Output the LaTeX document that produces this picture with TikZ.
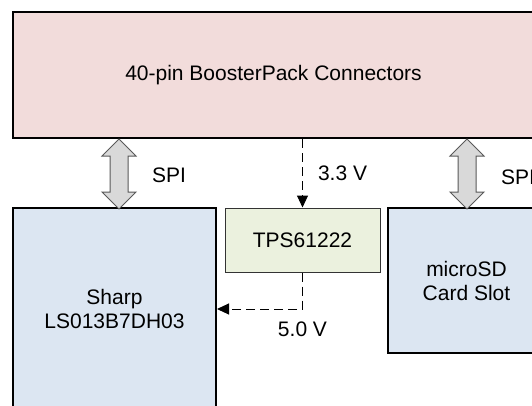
\documentclass[tikz,border=0pt]{standalone}
\usepackage{fontspec}
\setmainfont{Liberation Sans}
\usepackage{tikz}
\usetikzlibrary{arrows.meta}
\definecolor{boosterpink}{HTML}{F2DCDB}
\definecolor{chipblue}{HTML}{DCE6F2}
\definecolor{regulgreen}{HTML}{EBF1DE}
\definecolor{busgray}{HTML}{D9D9D9}
\tikzstyle{block} = [draw=black, line width=2pt, rectangle,
                     inner sep=0pt, align=center]
\tikzstyle{booster} = [block, fill=boosterpink]
\tikzstyle{device} = [block, fill=chipblue]
\tikzstyle{regul} = [block, line width=1pt, draw=black!80, fill=regulgreen]
\tikzstyle{bus} = [draw=black!65, line width=1pt, fill=busgray,
                   line join=miter]
\tikzstyle{power} = [draw=black, line width=1pt,
                     dash pattern=on 9pt off 5pt,
                     -{Triangle[length=12pt,width=11pt]}]
\tikzstyle{tag} = [inner sep=0pt]
% two-headed SPI arrow hanging from its top tip
\newcommand{\spibus}[1]{%
  \draw [bus] (#1) -- ++(17,17) -- ++(-8,0) -- ++(0,36) -- ++(8,0)
    -- ++(-17,17) -- ++(-17,-17) -- ++(8,0) -- ++(0,-36) -- ++(-8,0)
    -- cycle;}

\begin{document}
\begin{tikzpicture}[x=1pt, y=-1pt, font=\fontsize{21}{24}\selectfont]
  \useasboundingbox (0,0) rectangle (532,405);
  \clip (0,0) rectangle (532,405);
  % boxes
  \node [booster, minimum width=521pt, minimum height=126pt] (connector)
        at (273.5,75) {40-pin BoosterPack Connectors};
  \node [device, minimum width=203pt, minimum height=202pt] (sharp)
        at (114.5,309) {Sharp\\LS013B7DH03};
  \node [regul, minimum width=155pt, minimum height=64pt] (tps)
        at (302.5,240) {TPS61222};
  \node [device, minimum width=157pt, minimum height=145pt] (sdcard)
        at (466.5,280.5) {microSD\\Card Slot};
  % SPI buses
  \coordinate (spilcd) at (119,139);
  \coordinate (spisd) at (467,139);
  \spibus{spilcd}
  \spibus{spisd}
  \node [tag, anchor=west] at (152,175) {SPI};
  \node [tag, anchor=west] at (501,177) {SPI};
  % supply
  \draw [power] (tps.north |- connector.south) --
        node [tag, anchor=west, xshift=15pt] {3.3 V} (tps.north);
  \draw [power] (tps.south) |-
        node [tag, anchor=north, yshift=-12pt, pos=0.5] {5.0 V} (sharp.east);
\end{tikzpicture}
\end{document}
